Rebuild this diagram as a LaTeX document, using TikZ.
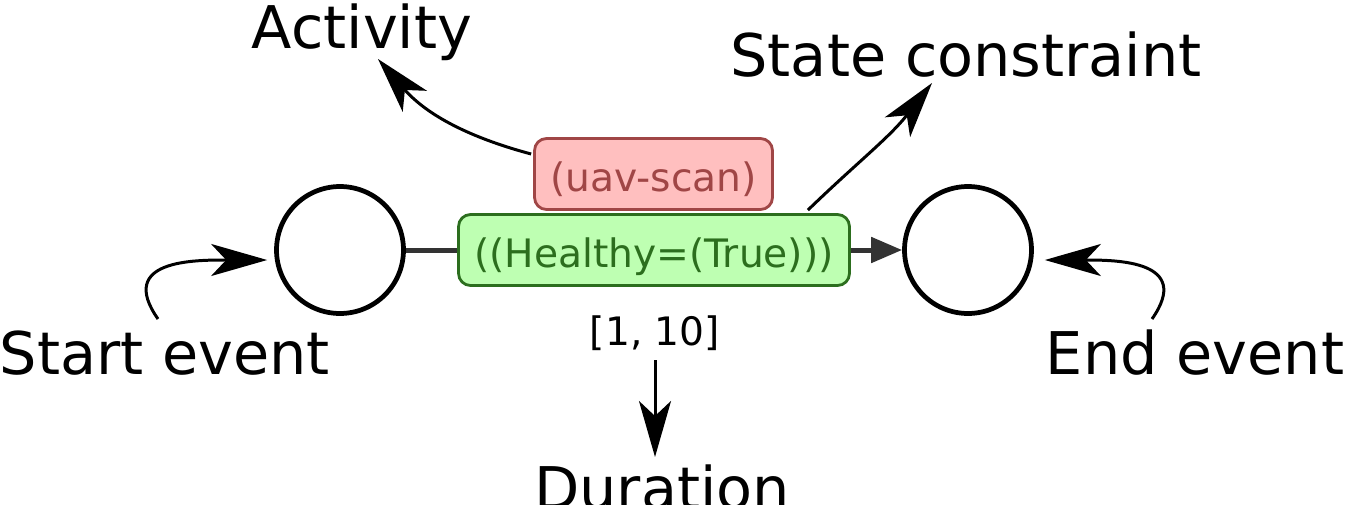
\documentclass[tikz,border=0pt]{standalone}
\usepackage{fontspec}
\setmainfont{DejaVu Sans}
\usetikzlibrary{arrows.meta}

\definecolor{actfill}{HTML}{FFBFBF}
\definecolor{actline}{HTML}{A04646}
\definecolor{condfill}{HTML}{BEFFB2}
\definecolor{condline}{HTML}{2C6E1E}
\definecolor{flowgray}{HTML}{333333}

\begin{document}
\begin{tikzpicture}[x=0.02cm, y=-0.02cm,
        evnode/.style={circle, draw, line width=0.095cm, minimum size=2.54cm, inner sep=0},
        actbox/.style={draw=actline, fill=actfill, text=actline, line width=1.6pt, rounded corners=0.24cm,
            minimum width=4.76cm, minimum height=1.42cm, text height=19.4pt, text depth=0pt,
            font=\fontsize{22.3}{26}\selectfont},
        condbox/.style={draw=condline, fill=condfill, text=condline, line width=1.6pt, rounded corners=0.24cm,
            minimum width=7.82cm, minimum height=1.42cm, text height=19.4pt, text depth=0pt,
            font=\fontsize{22.3}{26}\selectfont},
        bigtext/.style={inner sep=0, anchor=base, font=\fontsize{33.5}{40}\selectfont},
        smalltext/.style={inner sep=0, anchor=base, font=\fontsize{22.3}{26}\selectfont},
        flowline/.style={draw=flowgray, line width=0.1cm, -{Triangle[length=0.62cm, width=0.5cm]}},
        callout/.style={line width=1.7pt, -{Stealth[length=1.12cm, width=0.64cm, inset=0.3cm]}}]
        \useasboundingbox (0,0) rectangle (1345,504);

        \node[evnode] (s) at (340,250) {};
        \node[evnode] (e) at (968,250) {};
        \draw[flowline] (s) -- (e);
        \node[condbox] (c) at (654,250) {((Healthy=(True)))};
        \node[actbox] (a) at (653.5,174) {(uav-scan)};
        \node[smalltext] (bnd) at (655,345) {[1, 10]};

        \node[bigtext] (actlbl) at (362,48) {Activity};
        \node[bigtext] (sclbl) at (966,76) {State constraint};
        \node[bigtext] (selbl) at (165,374) {Start event};
        \node[bigtext] (eelbl) at (1195,374) {End event};
        \node[bigtext] (durlbl) at (662,509) {Duration};

        \draw[callout] ([shift={(-2,-20)}]a.west) to[out=165, in=-49] ([shift={(16,11)}]actlbl.base);
        \draw[callout] ([shift={(-43,-3)}]c.north east) to[out=44, in=-128] ([shift={(-34,7)}]sclbl.base);
        \draw[callout] ([shift={(-7,-55)}]selbl.base) to[out=125, in=180, looseness=1.5] ([shift={(-7,10)}]s.west);
        \draw[callout] ([shift={(-43,-55)}]eelbl.base) to[out=55, in=0, looseness=1.5] ([shift={(11,10)}]e.east);
        \draw[callout] ([shift={(0,15)}]bnd.base) -- ([shift={(-7,-52)}]durlbl.base);
    \end{tikzpicture}
\end{document}
